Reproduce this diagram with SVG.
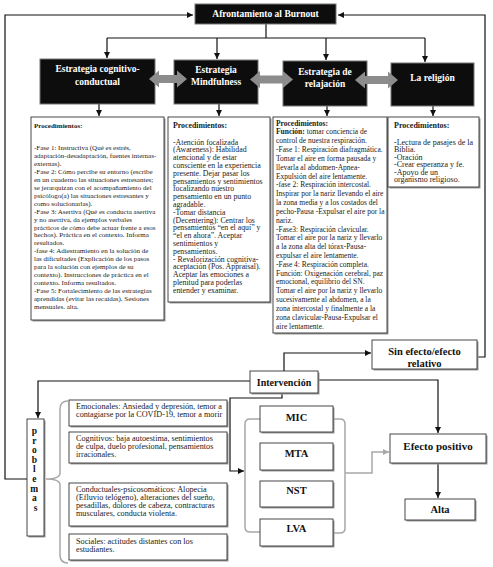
<svg xmlns="http://www.w3.org/2000/svg" width="493" height="567" viewBox="0 0 493 567">
<style>
.hdr{fill:#0d0d0d;stroke:#777;stroke-width:1}
.ht{font-family:"Liberation Serif",serif;font-weight:bold;fill:#fff;font-size:9.5px;text-anchor:middle}
.box{fill:#fff;stroke:#333;stroke-width:0.9}
.sh{fill:#999;stroke:none}
.t{font-family:"Liberation Serif",serif;fill:#1a1a1a}
.b{font-weight:bold}
.lb{font-family:"Liberation Serif",serif;font-weight:bold;fill:#111;text-anchor:middle}
.c{fill:none;stroke:#111;stroke-width:1.2}
.cg{fill:none;stroke:#a8a8a8;stroke-width:1.5}
.ga{fill:#8c8c8c}
</style>
<defs>
<marker id="ah" markerUnits="userSpaceOnUse" markerWidth="6" markerHeight="6" viewBox="0 0 10 10" refX="10" refY="5" orient="auto"><path d="M0,0 L10,5 L0,10 z" fill="#111"/></marker>
<marker id="ahg" markerUnits="userSpaceOnUse" markerWidth="6" markerHeight="6" viewBox="0 0 10 10" refX="10" refY="5" orient="auto"><path d="M0,0 L10,5 L0,10 z" fill="#a8a8a8"/></marker>
</defs>
<rect width="493" height="567" fill="#fff"/>

<g id="connectors">
<path class="c" d="M27 479 H5 V15 H193" marker-end="url(#ah)"/>
<path class="c" d="M477 357 H485 V15 H338" marker-end="url(#ah)"/>
<path class="c" d="M266 24 V38 M107 38 H425"/>
<path class="c" d="M107 38 V58" marker-end="url(#ah)"/>
<path class="c" d="M217 38 V59" marker-end="url(#ah)"/>
<path class="c" d="M326 38 V60" marker-end="url(#ah)"/>
<path class="c" d="M425 38 V62" marker-end="url(#ah)"/>
<path class="c" d="M99 104 V116" marker-end="url(#ah)"/>
<path class="c" d="M219 104 V116" marker-end="url(#ah)"/>
<path class="c" d="M327 106 V116" marker-end="url(#ah)"/>
<path class="c" d="M433 106 V116" marker-end="url(#ah)"/>
<path class="c" d="M284 371 V353 H371" marker-end="url(#ah)"/>
<path class="c" d="M250 381 H38 V418" marker-end="url(#ah)"/>
<path class="c" d="M318 380 H438 V433" marker-end="url(#ah)"/>
<path class="c" d="M282 393 V398 H230 V471 H244" marker-end="url(#ah)"/>
<path class="c" d="M438 463 V498" marker-end="url(#ah)"/>
<path class="cg" d="M345 473 H372 V452 H389" marker-end="url(#ahg)"/>
<path class="cg" d="M260 419 H250 Q245 419 245 424 V527 Q245 532 250 532 H260"/>
<path class="cg" d="M333 419 H340 Q345 419 345 424 V528 Q345 533 340 533 H333"/>
<path class="cg" d="M68 401 Q60 401 60 409 V473 Q60 479 46 479 Q60 479 60 485 V555 Q60 563 68 563"/>
</g>

<g id="title">
<rect class="hdr" x="195" y="4" width="141" height="20"/>
<text class="ht" x="265.5" y="17">Afrontamiento al Burnout</text>
</g>

<g id="h1">
<rect class="hdr" x="40" y="59" width="115" height="45"/>
<text class="ht" x="97.5" y="71.5">Estrategia cognitivo-</text>
<text class="ht" x="97.5" y="84.5">conductual</text>
</g>
<g id="h2">
<rect class="hdr" x="174" y="60" width="84" height="44"/>
<text class="ht" x="216" y="72.5">Estrategia</text>
<text class="ht" x="216" y="85">Mindfulness</text>
</g>
<g id="h3">
<rect class="hdr" x="283" y="61" width="84" height="45"/>
<text class="ht" x="325" y="74.5">Estrategia de</text>
<text class="ht" x="325" y="87">relajación</text>
</g>
<g id="h4">
<rect class="hdr" x="391" y="63" width="83" height="43"/>
<text class="ht" x="432.5" y="81">La religión</text>
</g>

<g id="dblarrows">
<polygon class="ga" points="149,79 159,70.5 159,75 177,75 177,70.5 187,79 177,87.5 177,83 159,83 159,87.5"/>
<polygon class="ga" points="250,79.5 260,71 260,75.5 283,75.5 283,71 293,79.5 283,88 283,83.5 260,83.5 260,88"/>
<polygon class="ga" points="355,80 365,71.5 365,76 388,76 388,71.5 398,80 388,88.5 388,84 365,84 365,88.5"/>
</g>

<g id="p1">
<rect class="sh" x="32.5" y="118.5" width="133" height="203"/>
<rect class="box" x="31" y="117" width="133" height="203"/>
<text class="t" font-size="7" x="34">
<tspan class="b" y="127.5">Procedimientos:</tspan>
<tspan x="34" y="150">-Fase 1: Instructiva (Qué es estrés,</tspan>
<tspan x="34" y="157.95">adaptación-desadaptación, fuentes internas-</tspan>
<tspan x="34" y="165.9">externas).</tspan>
<tspan x="34" y="173.85">-Fase 2: Cómo percibe su entorno (escribe</tspan>
<tspan x="34" y="181.8">en un cuaderno las situaciones estresantes;</tspan>
<tspan x="34" y="189.75">se jerarquizan con el acompañamiento del</tspan>
<tspan x="34" y="197.7">psicólogo(a) las situaciones estresantes y</tspan>
<tspan x="34" y="205.65">como solucionarlas).</tspan>
<tspan x="34" y="213.6">-Fase 3:  Asertiva (Qué es conducta asertiva</tspan>
<tspan x="34" y="221.55">y no asertiva, da ejemplos verbales</tspan>
<tspan x="34" y="229.5">prácticos de cómo debe actuar frente a esos</tspan>
<tspan x="34" y="237.45">hechos).   Práctica en el contexto. Informa</tspan>
<tspan x="34" y="245.4">resultados.</tspan>
<tspan x="34" y="253.35">-fase 4: Adiestramiento en la solución de</tspan>
<tspan x="34" y="261.3">las dificultades (Explicación de los pasos</tspan>
<tspan x="34" y="269.25">para la solución con ejemplos de su</tspan>
<tspan x="34" y="277.2">contexto).  Instrucciones de práctica en el</tspan>
<tspan x="34" y="285.15">contexto. Informa resultados.</tspan>
<tspan x="34" y="293.1">-Fase 5: Fortalecimiento de las estrategias</tspan>
<tspan x="34" y="301.05">aprendidas (evitar las recaídas).  Sesiones</tspan>
<tspan x="34" y="309">mensuales. alta.</tspan>
</text>
</g>

<g id="p2">
<rect class="sh" x="169.5" y="118.5" width="102" height="185"/>
<rect class="box" x="168" y="117" width="102" height="185"/>
<text class="t" font-size="7.8" x="173">
<tspan class="b" y="127.5">Procedimientos:</tspan>
<tspan x="173" y="144.5">-Atención focalizada</tspan>
<tspan x="173" y="152.3">(Awareness): Habilidad</tspan>
<tspan x="173" y="160.1">atencional y de estar</tspan>
<tspan x="173" y="167.9">consciente en la experiencia</tspan>
<tspan x="173" y="175.7">presente. Dejar pasar los</tspan>
<tspan x="173" y="183.5">pensamientos y sentimientos</tspan>
<tspan x="173" y="191.3">focalizando nuestro</tspan>
<tspan x="173" y="199.1">pensamiento en un punto</tspan>
<tspan x="173" y="206.9">agradable.</tspan>
<tspan x="173" y="214.7">-Tomar distancia</tspan>
<tspan x="173" y="222.5">(Decentering): Centrar los</tspan>
<tspan x="173" y="230.3">pensamientos “en el aquí” y</tspan>
<tspan x="173" y="238.1">“el en ahora”. Aceptar</tspan>
<tspan x="173" y="245.9">sentimientos y</tspan>
<tspan x="173" y="253.7">pensamientos.</tspan>
<tspan x="173" y="261.5">- Revalorización cognitiva-</tspan>
<tspan x="173" y="269.3">aceptación (Pos. Appraisal).</tspan>
<tspan x="173" y="277.1">Aceptar las emociones a</tspan>
<tspan x="173" y="284.9">plenitud para poderlas</tspan>
<tspan x="173" y="292.7">entender y examinar.</tspan>
</text>
</g>

<g id="p3">
<rect class="sh" x="274.5" y="118.5" width="114" height="216"/>
<rect class="box" x="273" y="117" width="114" height="216"/>
<text class="t" font-size="7.5" x="276">
<tspan class="b" y="125.5">Procedimientos:</tspan>
<tspan x="276" y="134.3"><tspan class="b">Función:</tspan> tomar conciencia de</tspan>
<tspan x="276" y="143.2">control de nuestra respiración.</tspan>
<tspan x="276" y="152">-Fase 1: Respiración diafragmática.</tspan>
<tspan x="276" y="160.8">Tomar el aire en forma pausada y</tspan>
<tspan x="276" y="169.7">llevarla al abdomen-Apnea-</tspan>
<tspan x="276" y="178.5">Expulsión del aire lentamente.</tspan>
<tspan x="276" y="187.3">-fase 2: Respiración intercostal.</tspan>
<tspan x="276" y="196.1">Inspirar por la nariz llevando el aire</tspan>
<tspan x="276" y="205">la zona media y a los costados del</tspan>
<tspan x="276" y="213.8">pecho-Pausa -Expulsar el aire por la</tspan>
<tspan x="276" y="222.6">nariz.</tspan>
<tspan x="276" y="231.5">-Fase3: Respiración clavicular.</tspan>
<tspan x="276" y="240.3">Tomar el aire por la nariz y llevarlo</tspan>
<tspan x="276" y="249.1">a la zona alta del tórax-Pausa-</tspan>
<tspan x="276" y="258">expulsar el aire lentamente.</tspan>
<tspan x="276" y="266.8">-Fase 4: Respiración completa.</tspan>
<tspan x="276" y="275.6">Función: Oxigenación cerebral, paz</tspan>
<tspan x="276" y="284.4">emocional, equilibrio del SN.</tspan>
<tspan x="276" y="293.3">Tomar el aire por la nariz y llevarlo</tspan>
<tspan x="276" y="302.1">sucesivamente al abdomen, a la</tspan>
<tspan x="276" y="310.9">zona intercostal y finalmente a la</tspan>
<tspan x="276" y="319.8">zona clavicular-Pausa-Expulsar el</tspan>
<tspan x="276" y="328.6">aire lentamente.</tspan>
</text>
</g>

<g id="p4">
<rect class="sh" x="389.5" y="118.5" width="91" height="70"/>
<rect class="box" x="388" y="117" width="91" height="70"/>
<text class="t" font-size="8" x="394">
<tspan class="b" y="127.5">Procedimientos:</tspan>
<tspan x="394" y="144.5">-Lectura de pasajes de la</tspan>
<tspan x="394" y="152">Biblia.</tspan>
<tspan x="394" y="159.5">-Oración</tspan>
<tspan x="394" y="167">-Crear esperanza y fe.</tspan>
<tspan x="394" y="174.5">-Apoyo de un</tspan>
<tspan x="394" y="182">organismo religioso.</tspan>
</text>
</g>

<g id="sinefecto">
<rect class="sh" x="373.5" y="341.5" width="105" height="29"/>
<rect class="box" x="372" y="340" width="105" height="29"/>
<text class="lb" font-size="10.5" x="424.5" y="354.5">Sin efecto/efecto</text>
<text class="lb" font-size="10.5" x="424.5" y="366.5">relativo</text>
</g>

<g id="intervencion">
<rect class="sh" x="251.5" y="372.5" width="68" height="22"/>
<rect class="box" x="250" y="371" width="68" height="22"/>
<text class="lb" font-size="10" x="284" y="385.5">Intervención</text>
</g>

<g id="problemas">
<rect class="sh" x="28.5" y="420.5" width="17" height="117"/>
<rect class="box" x="27" y="419" width="17" height="117"/>
<text class="lb" font-size="9.5" x="35.5">
<tspan x="35.5" y="434">p</tspan>
<tspan x="35.5" y="443.6">r</tspan>
<tspan x="35.5" y="453.2">o</tspan>
<tspan x="35.5" y="462.8">b</tspan>
<tspan x="35.5" y="472.4">l</tspan>
<tspan x="35.5" y="482">e</tspan>
<tspan x="35.5" y="491.6">m</tspan>
<tspan x="35.5" y="501.2">a</tspan>
<tspan x="35.5" y="510.8">s</tspan>
</text>
</g>

<g id="emocionales">
<rect class="sh" x="70.5" y="401.5" width="158" height="26"/>
<rect class="box" x="69" y="400" width="158" height="26"/>
<text class="t" font-size="8.2"><tspan x="76" y="408.5">Emocionales: Ansiedad y depresión, temor a</tspan><tspan x="76" y="416.5">contagiarse por la COVID-19, temor a morir</tspan></text>
</g>
<g id="cognitivos">
<rect class="sh" x="70.5" y="433.5" width="158" height="31"/>
<rect class="box" x="69" y="432" width="158" height="31"/>
<text class="t" font-size="8.2"><tspan x="76" y="440.5">Cognitivos: baja autoestima, sentimientos</tspan><tspan x="76" y="448.5">de culpa, duelo profesional, pensamientos</tspan><tspan x="76" y="456.5">irracionales.</tspan></text>
</g>
<g id="conductuales">
<rect class="sh" x="70.5" y="484.5" width="158" height="43"/>
<rect class="box" x="69" y="483" width="158" height="43"/>
<text class="t" font-size="8.2"><tspan x="76" y="491.5">Conductuales-psicosomáticos: Alopecia</tspan><tspan x="76" y="499.5">(Efluvio telógeno), alteraciones del sueño,</tspan><tspan x="76" y="507.5">pesadillas, dolores de cabeza, contracturas</tspan><tspan x="76" y="515.5">musculares, conducta violenta.</tspan></text>
</g>
<g id="sociales">
<rect class="sh" x="70.5" y="535.5" width="158" height="26"/>
<rect class="box" x="69" y="534" width="158" height="26"/>
<text class="t" font-size="8.2"><tspan x="76" y="543.5">Sociales: actitudes distantes con los</tspan><tspan x="76" y="551.5">estudiantes.</tspan></text>
</g>

<g id="mic">
<rect class="sh" x="261.5" y="407.5" width="73" height="26"/>
<rect class="box" x="260" y="406" width="73" height="26"/>
<text class="lb" font-size="10.5" x="296.5" y="421">MIC</text>
</g>
<g id="mta">
<rect class="sh" x="261.5" y="444.5" width="73" height="27"/>
<rect class="box" x="260" y="443" width="73" height="27"/>
<text class="lb" font-size="10.5" x="296.5" y="457">MTA</text>
</g>
<g id="nst">
<rect class="sh" x="261.5" y="482.5" width="73" height="26"/>
<rect class="box" x="260" y="481" width="73" height="26"/>
<text class="lb" font-size="10.5" x="296.5" y="494">NST</text>
</g>
<g id="lva">
<rect class="sh" x="261.5" y="520.5" width="73" height="27"/>
<rect class="box" x="260" y="519" width="73" height="27"/>
<text class="lb" font-size="10.5" x="296.5" y="532">LVA</text>
</g>

<g id="efecto">
<rect class="sh" x="391.5" y="435.5" width="96" height="29"/>
<rect class="box" x="390" y="434" width="96" height="29"/>
<text class="lb" font-size="11" x="438" y="449.5">Efecto positivo</text>
</g>
<g id="alta">
<rect class="sh" x="406.5" y="500.5" width="70" height="21"/>
<rect class="box" x="405" y="499" width="70" height="21"/>
<text class="lb" font-size="10.5" x="440" y="513">Alta</text>
</g>
</svg>
